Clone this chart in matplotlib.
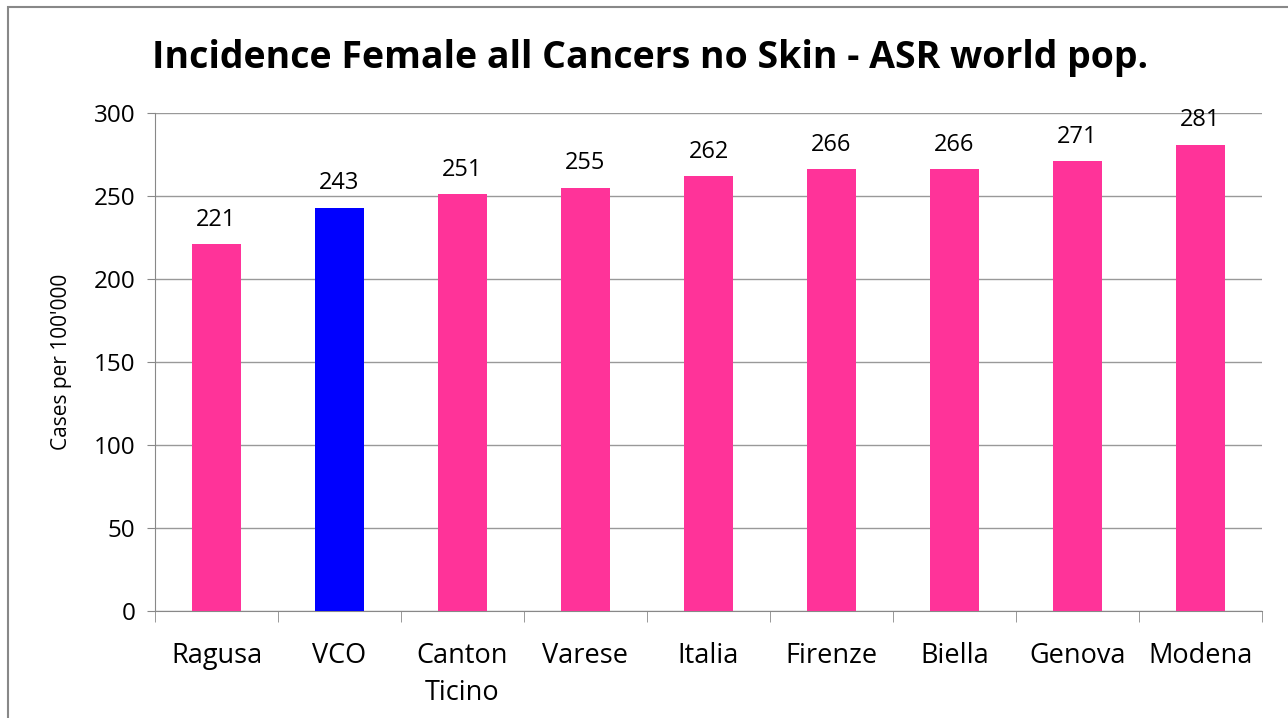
import matplotlib.pyplot as plt
from matplotlib.patches import Rectangle

# data
regions = ['Ragusa', 'VCO', 'Canton\nTicino', 'Varese', 'Italia', 'Firenze', 'Biella', 'Genova', 'Modena']
cases = [221, 243, 251, 255, 262, 266, 266, 271, 281]
highlight = 'VCO'

pink = '#FF3399'
blue = '#0000FF'

plt.rcParams['font.family'] = ['Open Sans', 'DejaVu Sans']

fig = plt.figure(figsize=(12.88, 7.18), dpi=100)
ax = fig.add_axes([155 / 1288, 1 - 611 / 718, (1262 - 155) / 1288, (611 - 113) / 718])

# grey frame round the chart like the Excel chart area
fig.patches.append(Rectangle((8 / 1288, -0.01), 1.0, 1 - 7 / 718 + 0.01, transform=fig.transFigure,
                             fill=False, edgecolor='#888888', linewidth=1.5))

colors = [blue if r == highlight else pink for r in regions]
x = range(len(regions))
bars = ax.bar(x, cases, width=0.4, color=colors, zorder=3)

for b, v in zip(bars, cases):
    ax.annotate(str(v), (b.get_x() + b.get_width() / 2, v), xytext=(0, 9),
                textcoords='offset points', ha='center', va='bottom', fontsize=17)

ax.set_xlim(-0.5, len(regions) - 0.5)
ax.set_ylim(0, 300)
ax.set_yticks(range(0, 301, 50))
ax.yaxis.grid(True, color='#999999', linewidth=1, zorder=0)

ax.set_xticks(x)
ax.set_xticklabels(regions, fontsize=19.5, linespacing=1.45)
ax.set_xticks([i - 0.5 for i in range(len(regions) + 1)], minor=True)
ax.tick_params(axis='x', which='major', length=0, pad=22)
ax.tick_params(axis='x', which='minor', length=8, color='#888888', direction='out')
ax.tick_params(axis='y', length=6, color='#888888', labelsize=17.5, pad=8)

for s in ['top', 'right']:
    ax.spines[s].set_visible(False)
ax.spines['left'].set_color('#888888')
ax.spines['bottom'].set_color('#888888')

ax.set_ylabel("Cases per 100'000", fontsize=15, labelpad=16)
fig.text(650 / 1288, 1 - 58 / 718, 'Incidence Female all Cancers no Skin - ASR world pop.',
         ha='center', va='center', fontsize=27, fontweight='bold')

fig.savefig('out.png', dpi=100)
